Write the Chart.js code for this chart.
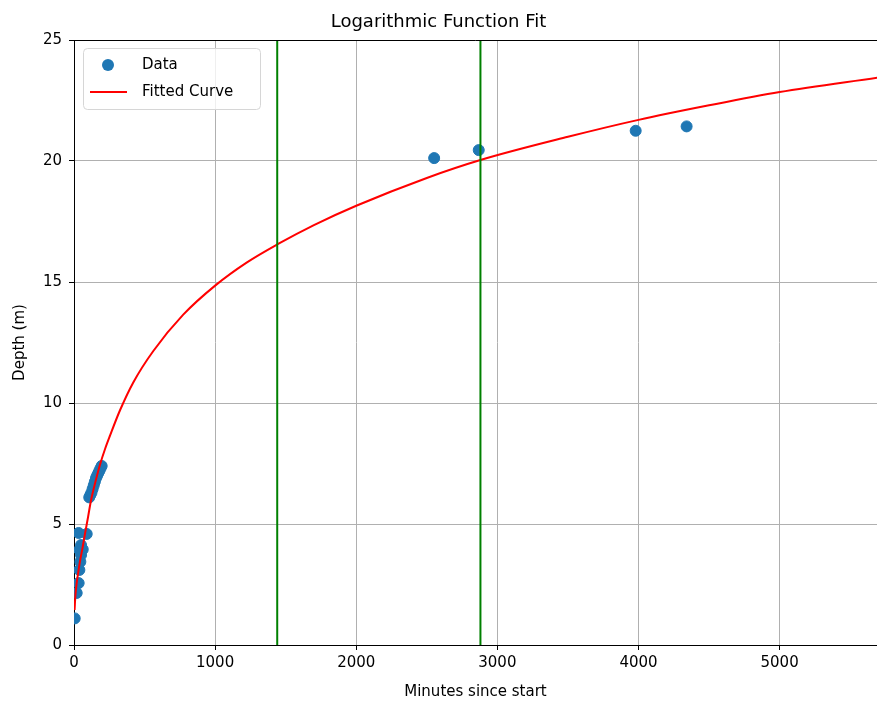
<!DOCTYPE html>
<html>
<head>
<meta charset="utf-8">
<script src="https://cdn.jsdelivr.net/npm/chart.js@4/dist/chart.umd.min.js"></script>
<style>
  html, body { margin: 0; padding: 0; background: #fff; }
  #wrap { width: 877px; height: 702px; position: relative; }
</style>
</head>
<body>
<div id="wrap"><canvas id="depthChart"></canvas></div>
<script>
// measured depth readings
const obsMinutes = [5, 19, 33, 38, 45, 50, 62, 50, 38, 33, 90,
  108, 116, 124, 132, 140, 148, 156, 164, 172, 180, 188, 196,
  2552, 2868, 3980, 4341];
const obsDepth = [1.1, 2.15, 2.56, 3.1, 3.44, 3.72, 3.95, 4.13, 3.93, 4.63, 4.59,
  6.1, 6.2, 6.3, 6.45, 6.6, 6.75, 6.9, 7.0, 7.1, 7.2, 7.3, 7.4,
  20.12, 20.45, 21.25, 21.43];

// logarithmic fit, sampled along its length
const fitMinutes = [4, 10, 20, 30, 42, 60, 78, 100, 118, 150, 184, 220, 255,
  326, 420, 562, 774, 1000, 1223, 1440, 1700, 2000, 2500, 2880,
  3500, 4000, 4500, 5000, 5700];
const fitDepth = [1.45, 2.05, 2.6, 3.0, 3.45, 4.0, 4.6, 5.3, 5.9, 6.7, 7.45, 8.1, 8.65,
  9.7, 10.85, 12.15, 13.65, 14.85, 15.8, 16.55, 17.35, 18.15, 19.3, 20.04,
  21.0, 21.7, 22.3, 22.85, 23.45];

// one day / two days markers
const markerMinutes = [1440, 2880];

const xTicks = [0, 1000, 2000, 3000, 4000, 5000];
const yTicks = [0, 5, 10, 15, 20, 25];

const FONT = "'DejaVu Sans', sans-serif";

const toPoints = (xs, ys) => xs.map((x, i) => ({ x: x, y: ys[i] }));

const markerSets = markerMinutes.map((m) => ({
  label: 'marker',
  data: [{ x: m, y: 0 }, { x: m, y: 25 }],
  showLine: true,
  borderColor: '#008000',
  borderWidth: 2,
  pointRadius: 0,
  order: 1
}));

// outline + legend box drawn over the plot
const frame = {
  id: 'frame',
  afterDatasetsDraw(chart) {
    const { ctx, chartArea: a } = chart;
    ctx.save();
    ctx.strokeStyle = '#000';
    ctx.lineWidth = 1;
    ctx.beginPath();
    ctx.moveTo(a.left, a.top + 0.5);
    ctx.lineTo(a.right, a.top + 0.5);
    ctx.stroke();

    // legend
    const bx = a.left + 9.5, by = a.top + 8.5, bw = 177, bh = 61, r = 4;
    ctx.beginPath();
    ctx.roundRect(bx, by, bw, bh, r);
    ctx.fillStyle = 'rgba(255,255,255,0.8)';
    ctx.fill();
    ctx.strokeStyle = '#d6d6d6';
    ctx.stroke();

    ctx.fillStyle = '#1f77b4';
    ctx.beginPath();
    ctx.arc(a.left + 34, a.top + 25, 6, 0, Math.PI * 2);
    ctx.fill();

    ctx.strokeStyle = '#ff0000';
    ctx.lineWidth = 2;
    ctx.beginPath();
    ctx.moveTo(a.left + 16, a.top + 52);
    ctx.lineTo(a.left + 53, a.top + 52);
    ctx.stroke();

    ctx.fillStyle = '#000';
    ctx.font = '15px ' + FONT;
    ctx.textBaseline = 'middle';
    ctx.fillText(chart.data.datasets[0].label, a.left + 68, a.top + 25);
    ctx.fillText(chart.data.datasets[1].label, a.left + 68, a.top + 52);
    ctx.restore();
  }
};

const noPad = (s) => { s.paddingLeft = 0; s.paddingRight = 0; };

const config = {
  type: 'scatter',
  data: {
    datasets: [
      {
        label: 'Data',
        data: toPoints(obsMinutes, obsDepth),
        backgroundColor: '#1f77b4',
        borderColor: '#1f77b4',
        pointRadius: 5.5,
        pointHoverRadius: 5.5,
        order: 3
      },
      {
        label: 'Fitted Curve',
        data: toPoints(fitMinutes, fitDepth),
        showLine: true,
        borderColor: '#ff0000',
        borderWidth: 2,
        pointRadius: 0,
        cubicInterpolationMode: 'monotone',
        order: 2
      },
      ...markerSets
    ]
  },
  options: {
    responsive: true,
    maintainAspectRatio: false,
    animation: false,
    layout: { autoPadding: false, padding: { left: 0, right: 0, top: 0, bottom: 0 } },
    plugins: {
      legend: { display: false },
      tooltip: { enabled: false },
      title: {
        display: true,
        text: 'Logarithmic Function Fit',
        color: '#000',
        font: { family: FONT, size: 18, weight: 'normal' },
        padding: { top: 12, bottom: 6.4 }
      }
    },
    scales: {
      x: {
        type: 'linear',
        min: 0,
        max: 5690,
        afterBuildTicks: (s) => { s.ticks = xTicks.map((v) => ({ value: v })); },
        afterFit: (s) => { s.height = 57; noPad(s); },
        grid: { color: '#b0b0b0', lineWidth: 1, tickColor: '#000', tickLength: 5 },
        border: { color: '#000', width: 1 },
        ticks: {
          color: '#000',
          font: { family: FONT, size: 15 },
          padding: 4,
          maxRotation: 0,
          callback: (v) => String(v)
        },
        title: {
          display: true,
          text: 'Minutes since start',
          color: '#000',
          font: { family: FONT, size: 15 },
          padding: { top: 4, bottom: 1 }
        }
      },
      y: {
        type: 'linear',
        min: 0,
        max: 25,
        afterBuildTicks: (s) => { s.ticks = yTicks.map((v) => ({ value: v })); },
        afterFit: (s) => { s.width = 74; },
        grid: { color: '#b0b0b0', lineWidth: 1, tickColor: '#000', tickLength: 5 },
        border: { color: '#000', width: 1 },
        ticks: { color: '#000', font: { family: FONT, size: 15 }, padding: 7 },
        title: {
          display: true,
          text: 'Depth (m)',
          color: '#000',
          font: { family: FONT, size: 15 },
          padding: { top: 11, bottom: 0 }
        }
      }
    }
  },
  plugins: [frame]
};

new Chart(document.getElementById('depthChart').getContext('2d'), config);
</script>
</body>
</html>
